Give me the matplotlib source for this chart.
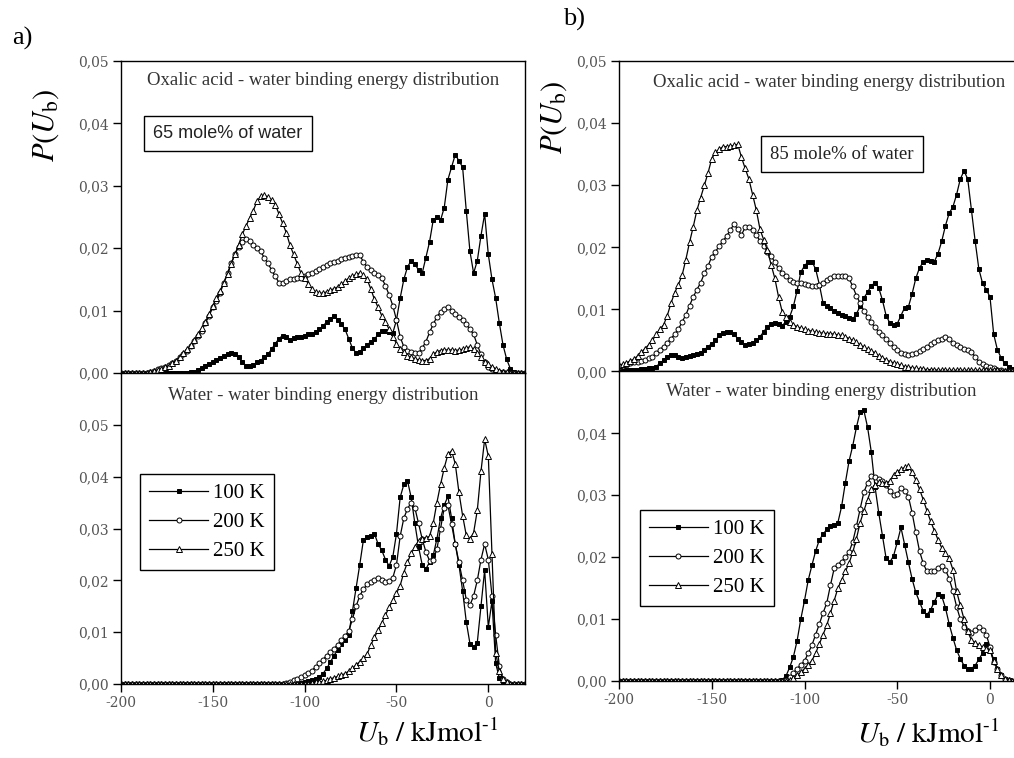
import numpy as np
import matplotlib
matplotlib.use('Agg')
import matplotlib.pyplot as plt
from matplotlib.ticker import FuncFormatter

plt.rcParams['font.family'] = 'serif'
plt.rcParams['font.serif'] = ['Liberation Serif', 'DejaVu Serif']
plt.rcParams['mathtext.fontset'] = 'stix'
plt.rcParams['axes.unicode_minus'] = False

# energy grid, kJ/mol
x = np.arange(-200, 21, 2)

# a) 65 mole% water, oxalic acid - water
oa65_100 = [0, 0, 0, 0, 0, 0, 0, 0, 0, 0,
            0, 0, 0, 0, 0, 0, 0, 0, 0, 0.0001,
            0.0002, 0.0005, 0.0008, 0.0012, 0.0015, 0.0018, 0.0021, 0.0024, 0.0027, 0.0030,
            0.0032, 0.0030, 0.0025, 0.0018, 0.0012, 0.0011, 0.0013, 0.0017, 0.0020, 0.0025,
            0.0030, 0.0038, 0.0047, 0.0055, 0.0060, 0.0058, 0.0053, 0.0056, 0.0058, 0.0057,
            0.0060, 0.0062, 0.0063, 0.0066, 0.0070, 0.0075, 0.0082, 0.0086, 0.0092, 0.0085,
            0.0078, 0.0070, 0.0055, 0.0040, 0.0032, 0.0034, 0.0040, 0.0045, 0.0050, 0.0054,
            0.0062, 0.0067, 0.0068, 0.0066, 0.0064, 0.0085, 0.0120, 0.0150, 0.0170, 0.0180,
            0.0175, 0.0165, 0.0160, 0.0185, 0.0210, 0.0245, 0.0250, 0.0245, 0.0265, 0.0310,
            0.0330, 0.0350, 0.0340, 0.0330, 0.0260, 0.0195, 0.0160, 0.0180, 0.0220, 0.0255,
            0.0190, 0.0150, 0.0120, 0.0080, 0.0045, 0.0022, 0.0007, 0.0002, 0, 0,
            0]
oa65_200 = [0, 0, 0, 0, 0, 0, 0, 0, 0.0002, 0.0004,
            0.0006, 0.0008, 0.0010, 0.0013, 0.0016, 0.0020, 0.0025, 0.0030, 0.0036, 0.0043,
            0.0052, 0.0060, 0.0068, 0.0080, 0.0092, 0.0105, 0.0115, 0.0128, 0.0145, 0.0160,
            0.0176, 0.0190, 0.0202, 0.0210, 0.0215, 0.0212, 0.0205, 0.0200, 0.0195, 0.0185,
            0.0176, 0.0165, 0.0155, 0.0145, 0.0145, 0.0148, 0.0150, 0.0150, 0.0152, 0.0152,
            0.0155, 0.0158, 0.0160, 0.0163, 0.0166, 0.0170, 0.0173, 0.0176, 0.0178, 0.0180,
            0.0182, 0.0184, 0.0186, 0.0187, 0.0189, 0.0189, 0.0178, 0.0170, 0.0165, 0.0160,
            0.0157, 0.0152, 0.0140, 0.0125, 0.0108, 0.0085, 0.0058, 0.0042, 0.0035, 0.0034,
            0.0032, 0.0032, 0.0040, 0.0050, 0.0065, 0.0078, 0.0090, 0.0098, 0.0103, 0.0105,
            0.0100, 0.0095, 0.0090, 0.0085, 0.0078, 0.0070, 0.0062, 0.0045, 0.0030, 0.0018,
            0.0010, 0.0006, 0.0004, 0.0002, 0.0001, 0, 0, 0, 0, 0,
            0]
oa65_250 = [0, 0, 0, 0, 0, 0, 0, 0, 0.0002, 0.0003,
            0.0005, 0.0007, 0.0009, 0.0012, 0.0016, 0.0020, 0.0026, 0.0032, 0.0038, 0.0045,
            0.0053, 0.0062, 0.0072, 0.0082, 0.0095, 0.0108, 0.0120, 0.0132, 0.0145, 0.0158,
            0.0175, 0.0190, 0.0205, 0.0222, 0.0235, 0.0248, 0.0260, 0.0275, 0.0283, 0.0285,
            0.0282, 0.0277, 0.0270, 0.0255, 0.0240, 0.0225, 0.0205, 0.0190, 0.0175, 0.0160,
            0.0152, 0.0143, 0.0135, 0.0130, 0.0128, 0.0128, 0.0130, 0.0133, 0.0135, 0.0138,
            0.0142, 0.0147, 0.0152, 0.0155, 0.0158, 0.0160, 0.0157, 0.0150, 0.0135, 0.0118,
            0.0105, 0.0092, 0.0082, 0.0070, 0.0058, 0.0047, 0.0039, 0.0033, 0.0028, 0.0025,
            0.0023, 0.0021, 0.0020, 0.0020, 0.0023, 0.0030, 0.0034, 0.0036, 0.0037, 0.0037,
            0.0037, 0.0036, 0.0037, 0.0038, 0.0040, 0.0042, 0.0038, 0.0032, 0.0025, 0.0018,
            0.0014, 0.0010, 0.0006, 0.0004, 0.0002, 0.0001, 0, 0, 0, 0,
            0]

# a) water - water
ww65_100 = [0, 0, 0, 0, 0, 0, 0, 0, 0, 0,
            0, 0, 0, 0, 0, 0, 0, 0, 0, 0,
            0, 0, 0, 0, 0, 0, 0, 0, 0, 0,
            0, 0, 0, 0, 0, 0, 0, 0, 0, 0,
            0, 0, 0, 0, 0, 0, 0, 0, 0.0001, 0.0002,
            0.0004, 0.0006, 0.0008, 0.0010, 0.0014, 0.0020, 0.0030, 0.0042, 0.0055, 0.0066,
            0.0078, 0.0085, 0.0095, 0.0140, 0.0185, 0.0230, 0.0278, 0.0283, 0.0285, 0.0290,
            0.0270, 0.0258, 0.0240, 0.0228, 0.0245, 0.0290, 0.0360, 0.0385, 0.0392, 0.0360,
            0.0310, 0.0265, 0.0230, 0.0222, 0.0235, 0.0248, 0.0280, 0.0320, 0.0345, 0.0362,
            0.0320, 0.0270, 0.0230, 0.0180, 0.0120, 0.0078, 0.0071, 0.0080, 0.0150, 0.0220,
            0.0110, 0.0160, 0.0040, 0.0012, 0.0003, 0.0001, 0, 0, 0, 0,
            0]
ww65_200 = [0, 0, 0, 0, 0, 0, 0, 0, 0, 0,
            0, 0, 0, 0, 0, 0, 0, 0, 0, 0,
            0, 0, 0, 0, 0, 0, 0, 0, 0, 0,
            0, 0, 0, 0, 0, 0, 0, 0, 0, 0,
            0, 0, 0, 0, 0, 0.0002, 0.0004, 0.0007, 0.0010, 0.0013,
            0.0017, 0.0021, 0.0026, 0.0033, 0.0040, 0.0047, 0.0055, 0.0062, 0.0068, 0.0076,
            0.0085, 0.0093, 0.0102, 0.0125, 0.0150, 0.0170, 0.0183, 0.0192, 0.0197, 0.0200,
            0.0204, 0.0200, 0.0196, 0.0198, 0.0205, 0.0230, 0.0285, 0.0320, 0.0338, 0.0350,
            0.0340, 0.0310, 0.0280, 0.0255, 0.0238, 0.0240, 0.0260, 0.0300, 0.0340, 0.0345,
            0.0308, 0.0270, 0.0235, 0.0200, 0.0163, 0.0152, 0.0170, 0.0200, 0.0240, 0.0270,
            0.0240, 0.0170, 0.0095, 0.0035, 0.0010, 0.0003, 0.0001, 0, 0, 0,
            0]
ww65_250 = [0, 0, 0, 0, 0, 0, 0, 0, 0, 0,
            0, 0, 0, 0, 0, 0, 0, 0, 0, 0,
            0, 0, 0, 0, 0, 0, 0, 0, 0, 0,
            0, 0, 0, 0, 0, 0, 0, 0, 0, 0,
            0, 0, 0, 0, 0, 0, 0, 0, 0, 0,
            0, 0.0001, 0.0002, 0.0003, 0.0004, 0.0005, 0.0007, 0.0010, 0.0012, 0.0015,
            0.0017, 0.0020, 0.0025, 0.0030, 0.0037, 0.0043, 0.0050, 0.0058, 0.0075, 0.0090,
            0.0104, 0.0118, 0.0133, 0.0148, 0.0162, 0.0175, 0.0190, 0.0215, 0.0235, 0.0252,
            0.0265, 0.0276, 0.0280, 0.0282, 0.0285, 0.0310, 0.0350, 0.0385, 0.0417, 0.0443,
            0.0450, 0.0425, 0.0370, 0.0325, 0.0287, 0.0280, 0.0292, 0.0335, 0.0410, 0.0472,
            0.0440, 0.0250, 0.0060, 0.0025, 0.0010, 0.0004, 0.0001, 0, 0, 0,
            0]

# b) 85 mole% water, oxalic acid - water
oa85_100 = [0.0002, 0.0002, 0.0002, 0.0003, 0.0003, 0.0003, 0.0004, 0.0004, 0.0005, 0.0005,
            0.0008, 0.0013, 0.0018, 0.0024, 0.0026, 0.0027, 0.0024, 0.0022, 0.0023, 0.0025,
            0.0027, 0.0028, 0.0030, 0.0035, 0.0040, 0.0045, 0.0050, 0.0058, 0.0062, 0.0064,
            0.0063, 0.0060, 0.0053, 0.0047, 0.0043, 0.0044, 0.0046, 0.0050, 0.0056, 0.0064,
            0.0072, 0.0077, 0.0078, 0.0076, 0.0074, 0.0080, 0.0088, 0.0105, 0.0130, 0.0160,
            0.0170, 0.0177, 0.0177, 0.0165, 0.0140, 0.0110, 0.0105, 0.0102, 0.0098, 0.0094,
            0.0091, 0.0089, 0.0086, 0.0084, 0.0093, 0.0105, 0.0118, 0.0128, 0.0138, 0.0143,
            0.0135, 0.0115, 0.0090, 0.0078, 0.0075, 0.0077, 0.0090, 0.0103, 0.0104, 0.0125,
            0.0150, 0.0167, 0.0176, 0.0180, 0.0178, 0.0177, 0.0190, 0.0210, 0.0235, 0.0255,
            0.0265, 0.0285, 0.0310, 0.0323, 0.0310, 0.0260, 0.0210, 0.0165, 0.0142, 0.0132,
            0.0120, 0.0060, 0.0035, 0.0022, 0.0013, 0.0008, 0.0004, 0.0002, 0.0001, 0,
            0]
oa85_200 = [0.0007, 0.0009, 0.0011, 0.0013, 0.0015, 0.0016, 0.0017, 0.0019, 0.0021, 0.0023,
            0.0030, 0.0035, 0.0040, 0.0046, 0.0053, 0.0060, 0.0068, 0.0080, 0.0091, 0.0106,
            0.0120, 0.0132, 0.0143, 0.0158, 0.0170, 0.0185, 0.0193, 0.0202, 0.0210, 0.0218,
            0.0228, 0.0237, 0.0229, 0.0220, 0.0232, 0.0233, 0.0228, 0.0220, 0.0210, 0.0202,
            0.0193, 0.0186, 0.0176, 0.0166, 0.0158, 0.0153, 0.0147, 0.0144, 0.0143, 0.0143,
            0.0141, 0.0139, 0.0137, 0.0137, 0.0140, 0.0143, 0.0147, 0.0150, 0.0153, 0.0154,
            0.0154, 0.0153, 0.0150, 0.0137, 0.0122, 0.0110, 0.0098, 0.0088, 0.0079, 0.0071,
            0.0064, 0.0058, 0.0052, 0.0046, 0.0040, 0.0034, 0.0030, 0.0028, 0.0027, 0.0028,
            0.0030, 0.0033, 0.0036, 0.0040, 0.0044, 0.0048, 0.0051, 0.0053, 0.0055, 0.0053,
            0.0046, 0.0043, 0.0040, 0.0037, 0.0035, 0.0031, 0.0024, 0.0016, 0.0012, 0.0009,
            0.0007, 0.0005, 0.0003, 0.0002, 0.0001, 0.0001, 0, 0, 0, 0,
            0]
oa85_250 = [0.0010, 0.0012, 0.0014, 0.0017, 0.0020, 0.0025, 0.0031, 0.0037, 0.0043, 0.0050,
            0.0060, 0.0068, 0.0075, 0.0090, 0.0110, 0.0127, 0.0140, 0.0155, 0.0180, 0.0208,
            0.0233, 0.0260, 0.0280, 0.0300, 0.0320, 0.0343, 0.0353, 0.0358, 0.0362, 0.0362,
            0.0363, 0.0364, 0.0366, 0.0345, 0.0327, 0.0310, 0.0285, 0.0260, 0.0229, 0.0212,
            0.0195, 0.0172, 0.0150, 0.0120, 0.0096, 0.0087, 0.0079, 0.0075, 0.0072, 0.0070,
            0.0068, 0.0066, 0.0065, 0.0063, 0.0062, 0.0062, 0.0061, 0.0061, 0.0060, 0.0059,
            0.0058, 0.0056, 0.0053, 0.0050, 0.0047, 0.0043, 0.0039, 0.0036, 0.0033, 0.0030,
            0.0025, 0.0022, 0.0019, 0.0016, 0.0014, 0.0012, 0.0010, 0.0008, 0.0007, 0.0006,
            0.0005, 0.0004, 0.0004, 0.0003, 0.0003, 0.0003, 0.0002, 0.0002, 0.0002, 0.0002,
            0.0002, 0.0002, 0.0002, 0.0002, 0.0002, 0.0002, 0.0002, 0.0002, 0.0002, 0.0002,
            0.0002, 0.0002, 0.0002, 0.0001, 0.0001, 0, 0, 0, 0, 0,
            0]

# b) water - water
ww85_100 = [0, 0, 0, 0, 0, 0, 0, 0, 0, 0,
            0, 0, 0, 0, 0, 0, 0, 0, 0, 0,
            0, 0, 0, 0, 0, 0, 0, 0, 0, 0,
            0, 0, 0, 0, 0, 0, 0, 0, 0, 0,
            0, 0, 0, 0, 0.0002, 0.0008, 0.0022, 0.0039, 0.0065, 0.0100,
            0.0130, 0.0163, 0.0187, 0.0210, 0.0228, 0.0237, 0.0245, 0.0250, 0.0252, 0.0256,
            0.0282, 0.0320, 0.0355, 0.0380, 0.0410, 0.0435, 0.0437, 0.0410, 0.0370, 0.0314,
            0.0272, 0.0235, 0.0198, 0.0192, 0.0202, 0.0224, 0.0248, 0.0220, 0.0192, 0.0165,
            0.0143, 0.0128, 0.0113, 0.0107, 0.0115, 0.0128, 0.0140, 0.0137, 0.0118, 0.0092,
            0.0070, 0.0050, 0.0036, 0.0025, 0.0019, 0.0020, 0.0025, 0.0035, 0.0045, 0.0060,
            0.0050, 0.0035, 0.0020, 0.0010, 0.0004, 0.0001, 0, 0, 0, 0,
            0]
ww85_200 = [0, 0, 0, 0, 0, 0, 0, 0, 0, 0,
            0, 0, 0, 0, 0, 0, 0, 0, 0, 0,
            0, 0, 0, 0, 0, 0, 0, 0, 0, 0,
            0, 0, 0, 0, 0, 0, 0, 0, 0, 0,
            0, 0, 0, 0, 0, 0.0002, 0.0006, 0.0013, 0.0020, 0.0026,
            0.0032, 0.0045, 0.0058, 0.0075, 0.0092, 0.0110, 0.0126, 0.0155, 0.0182, 0.0188,
            0.0193, 0.0200, 0.0208, 0.0225, 0.0250, 0.0278, 0.0305, 0.0320, 0.0331, 0.0330,
            0.0327, 0.0323, 0.0316, 0.0307, 0.0300, 0.0302, 0.0312, 0.0307, 0.0298, 0.0272,
            0.0240, 0.0210, 0.0190, 0.0177, 0.0177, 0.0177, 0.0182, 0.0185, 0.0180, 0.0165,
            0.0145, 0.0120, 0.0100, 0.0088, 0.0080, 0.0078, 0.0083, 0.0087, 0.0082, 0.0075,
            0.0055, 0.0030, 0.0020, 0.0010, 0.0004, 0.0001, 0, 0, 0, 0,
            0]
ww85_250 = [0, 0, 0, 0, 0, 0, 0, 0, 0, 0,
            0, 0, 0, 0, 0, 0, 0, 0, 0, 0,
            0, 0, 0, 0, 0, 0, 0, 0, 0, 0,
            0, 0, 0, 0, 0, 0, 0, 0, 0, 0,
            0, 0, 0, 0, 0, 0, 0.0002, 0.0005, 0.0009, 0.0014,
            0.0020, 0.0026, 0.0033, 0.0045, 0.0060, 0.0075, 0.0090, 0.0110, 0.0130, 0.0150,
            0.0163, 0.0177, 0.0190, 0.0208, 0.0230, 0.0256, 0.0275, 0.0293, 0.0310, 0.0317,
            0.0321, 0.0320, 0.0320, 0.0323, 0.0333, 0.0338, 0.0342, 0.0345, 0.0347, 0.0337,
            0.0325, 0.0310, 0.0293, 0.0275, 0.0258, 0.0243, 0.0228, 0.0215, 0.0207, 0.0198,
            0.0180, 0.0145, 0.0122, 0.0100, 0.0080, 0.0066, 0.0062, 0.0058, 0.0055, 0.0052,
            0.0050, 0.0032, 0.0020, 0.0010, 0.0004, 0.0001, 0, 0, 0, 0,
            0]

temps = ['100 K', '200 K', '250 K']
markers = ['s', 'o', '^']
faces = ['black', 'white', 'white']
sizes = [3.2, 3.6, 4.2]

comma = FuncFormatter(lambda v, p: f'{v:.2f}'.replace('.', ','))


def draw(ax, series):
    for y, lab, m, fc, ms in zip(series, temps, markers, faces, sizes):
        ax.plot(x, y, color='black', lw=0.9, marker=m, ms=ms, mfc=fc,
                mec='black', mew=0.7, label=lab)


def style(ax, ytop, yticks, bottom):
    ax.set_xlim(-200, 20)
    ax.set_ylim(0, ytop)
    ax.set_yticks(yticks)
    ax.yaxis.set_major_formatter(comma)
    ax.tick_params(direction='out', length=5.5, width=1.0, labelsize=10,
                   labelcolor='#555555', pad=3)
    for lbl in ax.get_yticklabels() + ax.get_xticklabels():
        lbl.set_family('DejaVu Serif')
    for s in ax.spines.values():
        s.set_linewidth(1.0)
    if bottom:
        ax.set_xticks([-200, -150, -100, -50, 0])
        ax.xaxis.set_major_formatter(FuncFormatter(lambda v, p: f'{v:.0f}'))
        for lbl in ax.get_xticklabels():
            lbl.set_family('DejaVu Serif')
    else:
        ax.tick_params(axis='x', bottom=False, labelbottom=False)


fig = plt.figure(figsize=(10.14, 7.58), dpi=100)

a_up = fig.add_axes([0.1193, 0.5079, 0.3985, 0.4116])
a_lo = fig.add_axes([0.1193, 0.0976, 0.3985, 0.4103])
b_up = fig.add_axes([0.6105, 0.5099, 0.4024, 0.4096])
b_lo = fig.add_axes([0.6105, 0.1016, 0.4024, 0.4083])

draw(a_up, [oa65_100, oa65_200, oa65_250])
draw(a_lo, [ww65_100, ww65_200, ww65_250])
draw(b_up, [oa85_100, oa85_200, oa85_250])
draw(b_lo, [ww85_100, ww85_200, ww85_250])

style(a_up, 0.05, [0, 0.01, 0.02, 0.03, 0.04, 0.05], False)
style(a_lo, 0.06, [0, 0.01, 0.02, 0.03, 0.04, 0.05], True)
style(b_up, 0.05, [0, 0.01, 0.02, 0.03, 0.04, 0.05], False)
style(b_lo, 0.05, [0, 0.01, 0.02, 0.03, 0.04], True)

title_kw = dict(ha='center', va='center', fontsize=13.5, color='#333333')
a_up.text(0.5, 0.939, 'Oxalic acid - water binding energy distribution',
          transform=a_up.transAxes, **title_kw)
a_lo.text(0.5, 0.929, 'Water - water binding energy distribution',
          transform=a_lo.transAxes, **title_kw)
b_up.text(0.515, 0.932, 'Oxalic acid - water binding energy distribution',
          transform=b_up.transAxes, **title_kw)
b_lo.text(0.495, 0.935, 'Water - water binding energy distribution',
          transform=b_lo.transAxes, **title_kw)

box = dict(boxstyle='square,pad=0.5', fc='white', ec='black', lw=1.0)
a_up.text(0.265, 0.769, '65 mole% of water', transform=a_up.transAxes,
          ha='center', va='center', fontsize=13, family='Liberation Sans',
          color='#222222', bbox=box)
b_up.text(0.547, 0.70, '85 mole% of water', transform=b_up.transAxes,
          ha='center', va='center', fontsize=13.5, color='#222222', bbox=box)

leg_kw = dict(loc='upper left', borderaxespad=0, fontsize=15, handlelength=2.8,
              handletextpad=0.25, labelspacing=0.45, borderpad=0.45,
              fancybox=False, framealpha=1, edgecolor='black')
la = a_lo.legend(bbox_to_anchor=(0.047, 0.675), **leg_kw)
lb = b_lo.legend(bbox_to_anchor=(0.051, 0.552), **leg_kw)
for lg in (la, lb):
    lg.get_frame().set_linewidth(1.0)

ylab = r'$P(U_{\rm b})$'
fig.text(0.045, 0.835, ylab, rotation=90, ha='center', va='center', fontsize=22)
fig.text(0.546, 0.846, ylab, rotation=90, ha='center', va='center', fontsize=22,
         bbox=dict(fc='white', ec='none', pad=1))

xlab = '$U_{\\rm b}\\ /\\ {\\rm kJmol}^{\\rm \u2010 1}$'
fig.text(0.421, 0.035, xlab, ha='center', va='center', fontsize=21)
fig.text(0.916, 0.033, xlab, ha='center', va='center', fontsize=21)

fig.text(0.012, 0.949, 'a)', ha='left', va='center', fontsize=19)
fig.text(0.555, 0.974, 'b)', ha='left', va='center', fontsize=19)

fig.savefig('out.png', dpi=100)
